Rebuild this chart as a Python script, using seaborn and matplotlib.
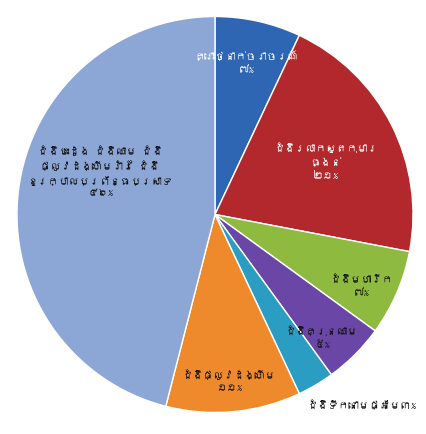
import matplotlib; matplotlib.use("Agg")
import matplotlib.pyplot as plt
import seaborn as sns
from matplotlib import font_manager
from matplotlib.ft2font import FT2Font

# ---- data ----
labels = ["គ្រោះថ្នាក់ចរាចរណ៍", "ជំងឺរលាកសួតកុមារ\nធ្ងន់", "ជំងឺមហារីក", "ជំងឺគ្រុនឈាម",
          "ជំងឺទឹកនោមផ្អែម", "ជំងឺផ្លូវដង្ហើម",
          "ជំងឺបេះដូង ជំងឺឈាម ជំងឺ\nផ្លូវដង្ហើមរ៉ាំរ៉ៃ ជំងឺ\nខួរក្បាលប្រព័ន្ធប្រសាទ"]
pct_text = ["៧%", "២១%", "៧%", "៥%", "៣%", "១១%", "៤៦%"]
values = [7, 21, 7, 5, 3, 11, 46]
colors = ["#2F66B3", "#B3282C", "#8DBA3F", "#6A47A6", "#2B9CC2", "#EE8A2C", "#8CA6D6"]

# pick a font that actually has Khmer glyphs, if any is installed
khmer = None
for f in font_manager.fontManager.ttflist:
    try:
        if 0x1796 in FT2Font(f.fname).get_charmap():
            khmer = f.name; break
    except Exception:
        pass
fam = [khmer, "DejaVu Sans"] if khmer else ["DejaVu Sans"]

sns.set_theme(style="white")
plt.rcParams["font.family"] = fam

fig = plt.figure(figsize=(4.26, 4.34), dpi=100)
R = 198
ax = fig.add_axes([(215 - R) / 426, (434 - 214.5 - R) / 434, 2 * R / 426, 2 * R / 434])
ax.pie(values, colors=sns.color_palette(colors), startangle=90, counterclock=False,
       radius=1, wedgeprops=dict(edgecolor="white", linewidth=1.0))
ax.set_xlim(-1, 1); ax.set_ylim(-1, 1)
ax.set_aspect("auto")
ax.axis("off")

# label positions (data coords) and text colours
pos = [(0.16, 0.77), (0.56, 0.27), (0.74, -0.36), (0.54, -0.62), (0.74, -0.96), (0.07, -0.84), (-0.58, 0.22)]
tcol = ["white", "white", "#111111", "#111111", "#111111", "#111111", "#111111"]
for i, (lab, pt) in enumerate(zip(labels, pct_text)):
    txt = lab + pt if i == 4 else lab + "\n" + pt
    ax.text(pos[i][0], pos[i][1], txt, ha="center", va="center", color=tcol[i],
            fontsize=7.5, fontweight="bold", linespacing=1.5, clip_on=False)

fig.savefig("out.png", dpi=100)
